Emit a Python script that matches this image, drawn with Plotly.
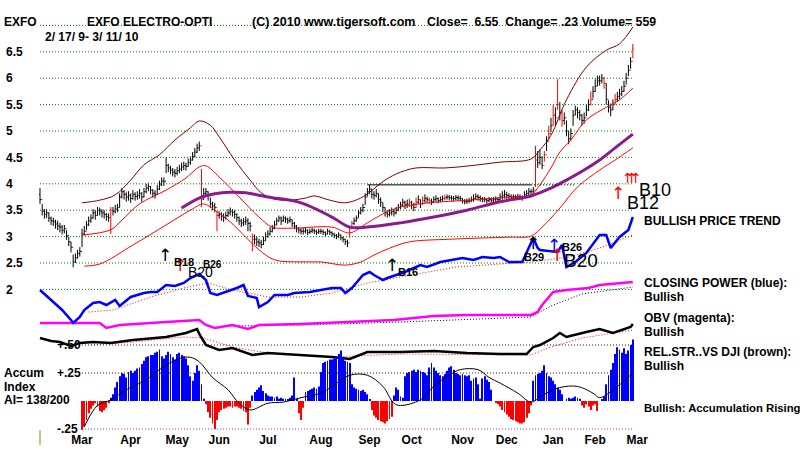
import plotly.graph_objects as go

# ---------------- price bars (trading-day index 0 = 2/17/09 ... 268 = 3/11/10)
closes = [
 3.70,3.48,3.42,3.45,3.35,3.30,3.28,3.24,3.20,3.18,
 3.12,3.15,3.02,2.90,2.80,2.52,2.60,2.68,2.72,3.05,
 3.10,3.22,3.30,3.35,3.45,3.40,3.50,3.48,3.45,3.42,
 3.38,3.36,3.50,3.48,3.52,3.55,3.75,3.85,3.80,3.75,
 3.78,3.72,3.80,3.76,3.78,3.82,3.75,3.85,3.92,3.95,
 3.88,3.82,3.80,3.90,3.98,4.05,4.05,4.35,4.30,4.26,
 4.22,4.20,4.25,4.28,4.32,4.35,4.33,4.40,4.45,4.52,
 4.60,4.68,4.72,3.70,3.82,3.85,3.78,3.62,3.58,3.55,
 3.40,3.42,3.38,3.36,3.40,3.45,3.48,3.46,3.42,3.36,
 3.30,3.26,3.28,3.30,3.25,3.20,2.95,2.95,2.90,2.88,
 2.85,2.92,3.00,3.05,3.10,3.15,3.22,3.30,3.35,3.30,
 3.35,3.33,3.30,3.32,3.25,3.20,3.15,3.12,3.10,3.10,
 3.12,3.08,3.10,3.12,3.10,3.08,3.10,3.10,3.08,3.05,
 3.10,3.08,3.05,3.02,3.00,3.03,2.98,2.95,2.90,2.88,
 3.15,3.25,3.30,3.35,3.45,3.50,3.55,3.75,3.85,3.90,
 3.80,3.78,3.82,3.70,3.65,3.55,3.45,3.42,3.45,3.48,
 3.45,3.50,3.55,3.60,3.65,3.60,3.62,3.65,3.60,3.55,
 3.65,3.70,3.62,3.68,3.72,3.70,3.68,3.66,3.70,3.72,
 3.68,3.70,3.72,3.74,3.75,3.74,3.73,3.72,3.74,3.73,
 3.72,3.68,3.66,3.67,3.68,3.70,3.72,3.76,3.74,3.72,
 3.70,3.70,3.68,3.70,3.69,3.70,3.71,3.70,3.75,3.78,
 3.80,3.78,3.76,3.75,3.75,3.74,3.76,3.75,3.73,3.80,
 3.82,3.85,3.85,3.88,4.45,4.40,4.50,4.35,4.55,4.80,
 4.95,5.10,5.30,5.25,5.50,5.35,5.20,5.25,5.00,4.85,
 4.95,5.30,5.40,5.35,5.30,5.20,5.25,5.40,5.50,5.60,
 5.75,5.85,5.95,5.95,6.00,5.90,5.60,5.45,5.40,5.50,
 5.60,5.65,5.70,5.75,5.85,6.00,6.15,6.32,6.55]
highs = [
 3.92,3.62,3.52,3.52,3.46,3.38,3.36,3.32,3.30,3.26,
 3.22,3.22,3.12,3.00,2.90,2.66,2.68,2.75,2.80,3.15,
 3.20,3.30,3.38,3.42,3.52,3.50,3.56,3.55,3.52,3.50,
 3.45,3.44,3.56,3.56,3.60,3.62,3.82,3.92,3.88,3.84,
 3.86,3.82,3.88,3.84,3.86,3.90,3.84,3.92,4.00,4.02,
 3.96,3.90,3.88,3.98,4.06,4.12,4.12,4.50,4.38,4.34,
 4.30,4.28,4.32,4.36,4.40,4.42,4.40,4.48,4.52,4.60,
 4.68,4.76,4.80,4.28,3.92,3.92,3.86,3.74,3.66,3.64,
 3.48,3.48,3.46,3.44,3.47,3.52,3.55,3.52,3.50,3.44,
 3.38,3.34,3.35,3.38,3.35,3.28,3.06,3.04,3.00,2.96,
 2.94,3.00,3.08,3.12,3.18,3.22,3.30,3.36,3.40,3.38,
 3.40,3.38,3.36,3.38,3.32,3.28,3.22,3.18,3.16,3.16,
 3.17,3.14,3.15,3.17,3.15,3.13,3.15,3.15,3.13,3.10,
 3.15,3.13,3.10,3.07,3.05,3.08,3.04,3.00,2.96,2.94,
 3.20,3.30,3.36,3.40,3.50,3.56,3.62,3.82,3.92,3.98,
 3.90,3.86,3.90,3.82,3.74,3.64,3.55,3.50,3.52,3.55,
 3.52,3.56,3.62,3.66,3.72,3.68,3.70,3.72,3.68,3.64,
 3.74,3.78,3.70,3.76,3.80,3.76,3.74,3.72,3.76,3.78,
 3.74,3.76,3.78,3.79,3.80,3.79,3.78,3.77,3.79,3.78,
 3.77,3.73,3.71,3.72,3.73,3.76,3.80,3.82,3.80,3.78,
 3.75,3.75,3.73,3.75,3.74,3.75,3.76,3.75,3.82,3.86,
 3.88,3.85,3.82,3.80,3.80,3.79,3.81,3.80,3.78,3.86,
 3.88,3.92,3.90,3.94,4.72,4.62,4.65,4.52,4.62,4.90,
 5.10,5.25,5.50,5.45,5.98,5.55,5.40,5.35,5.20,5.00,
 5.05,5.40,5.48,5.45,5.40,5.32,5.35,5.50,5.60,5.75,
 5.85,5.98,6.05,6.05,6.08,6.02,5.90,5.58,5.52,5.60,
 5.70,5.74,5.80,5.85,5.95,6.10,6.25,6.40,6.65]
lows = [
 3.62,3.40,3.34,3.35,3.28,3.22,3.20,3.15,3.12,3.08,
 3.04,3.06,2.94,2.82,2.70,2.42,2.50,2.58,2.62,2.80,
 3.02,3.12,3.20,3.26,3.34,3.32,3.40,3.40,3.36,3.34,
 3.30,3.28,3.05,3.40,3.44,3.46,3.55,3.72,3.70,3.66,
 3.68,3.64,3.70,3.68,3.70,3.72,3.66,3.74,3.82,3.86,
 3.80,3.74,3.72,3.80,3.88,3.96,3.96,4.20,4.22,4.18,
 4.14,4.12,4.16,4.20,4.24,4.26,4.25,4.32,4.36,4.44,
 4.50,4.58,4.62,3.56,3.70,3.76,3.68,3.54,3.50,3.46,
 3.10,3.34,3.30,3.28,3.32,3.37,3.40,3.38,3.34,3.28,
 3.22,3.18,3.20,3.22,3.10,3.10,2.72,2.86,2.82,2.80,
 2.78,2.84,2.92,2.98,3.02,3.08,3.14,3.22,3.28,3.22,
 3.28,3.26,3.24,3.26,3.18,3.14,3.08,3.06,3.04,3.04,
 3.06,3.03,3.05,3.07,3.05,3.03,3.05,3.05,3.03,3.00,
 3.04,3.03,3.00,2.97,2.95,2.97,2.93,2.89,2.84,2.80,
 2.98,3.16,3.22,3.28,3.36,3.42,3.46,3.60,3.76,3.80,
 3.72,3.70,3.74,3.62,3.56,3.46,3.38,3.36,3.38,3.40,
 3.38,3.42,3.48,3.52,3.56,3.52,3.54,3.56,3.52,3.48,
 3.54,3.62,3.54,3.60,3.64,3.64,3.62,3.60,3.64,3.66,
 3.63,3.65,3.67,3.69,3.70,3.69,3.68,3.67,3.69,3.68,
 3.67,3.63,3.61,3.62,3.63,3.65,3.66,3.70,3.68,3.66,
 3.65,3.65,3.63,3.65,3.64,3.65,3.66,3.65,3.68,3.70,
 3.72,3.71,3.70,3.70,3.70,3.69,3.71,3.70,3.68,3.74,
 3.76,3.78,3.79,3.82,3.94,4.30,4.36,4.28,4.42,4.62,
 4.82,4.98,5.10,5.10,5.40,5.20,5.08,5.12,4.90,4.75,
 4.82,5.10,5.30,5.24,5.20,5.10,5.14,5.28,5.38,5.48,
 5.62,5.74,5.85,5.86,5.90,5.80,5.50,5.35,5.28,5.40,
 5.50,5.55,5.60,5.66,5.74,5.88,6.04,6.18,6.38]
red_days = [32, 73, 80, 96, 140, 141, 167, 170, 173, 176, 183, 224, 228, 230,
            232, 234, 236, 249, 255, 260, 268]

# ---------------- bands / moving averages (day index, price)
upper_days = [19,27,34,41,47,54,61,68,72,77,81,88,95,100,106,113,120,124,131,138,
              145,149,156,163,170,183,194,208,222,226,231,238,247,256,262,268]
upper_vals = [3.64,3.69,3.79,4.07,4.36,4.55,4.83,5.06,5.19,5.11,4.89,4.45,4.07,3.83,
              3.71,3.69,3.73,3.77,3.69,3.64,3.73,3.84,4.07,4.22,4.30,4.30,4.34,4.41,
              4.47,4.64,4.92,5.59,6.21,6.53,6.65,6.97]
mid_days = [19,32,37,45,57,66,72,75,81,90,99,105,114,132,140,148,156,163,176,194,
            212,222,226,231,235,240,247,256,262,268]
mid_vals = [3.03,3.13,3.31,3.62,3.88,4.11,4.32,4.34,4.13,3.75,3.37,3.18,3.16,3.18,
            3.07,3.26,3.45,3.56,3.64,3.69,3.75,3.79,3.98,4.30,4.60,4.83,5.21,5.45,
            5.59,5.81]
lower_days = [20,27,42,57,68,74,79,86,93,99,106,118,127,138,145,151,158,167,185,
              212,222,228,235,243,253,260,268]
lower_vals = [2.44,2.48,2.84,3.22,3.50,3.62,3.50,3.28,2.99,2.75,2.56,2.52,2.52,2.46,
              2.52,2.65,2.78,2.90,2.95,2.99,3.01,3.22,3.54,3.94,4.26,4.45,4.68]
ma50_days = [64,72,79,86,93,103,118,132,140,148,163,178,193,208,222,231,238,246,
             253,260,268]
ma50_vals = [3.54,3.73,3.81,3.84,3.83,3.75,3.64,3.37,3.18,3.18,3.26,3.37,3.50,3.66,
             3.77,3.92,4.07,4.26,4.45,4.68,4.94]
resist_level = 3.98
resist_days = [148, 222]
resist_ext_days = [222, 242]

# ---------------- indicators (arbitrary display units)
cp_days = [0,5,10,14,15,18,20,24,27,30,34,36,41,47,50,53,57,61,65,68,72,75,77,80,
           84,89,92,94,98,99,103,106,112,115,122,127,132,136,138,141,146,149,151,
           155,157,161,165,169,172,175,181,186,191,196,200,205,208,212,218,223,225,
           226,231,234,236,238,242,247,253,256,258,262,266,268]
cp_vals = [40,30,20,10,7,13,20,27,28,25,30,24,33,37,38,38,45,44,47,52,56,50,37,35,
           38,42,45,34,32,23,28,35,35,37,38,40,42,42,37,42,55,58,55,50,52,55,58,62,
           65,63,68,70,72,70,73,72,73,68,68,92,82,80,79,78,85,63,68,77,95,95,82,93,
           100,113]
cp_ma_days = [22,33,50,65,76,87,103,118,132,148,163,188,208,222,239,253,268]
cp_ma_vals = [18,20,33,42,47,40,33,33,37,47,53,63,66,68,73,82,95]
obv_days = [0,27,30,36,57,72,75,79,87,94,99,118,139,160,178,193,222,225,227,232,
            238,248,253,268]
obv_vals = [7,7,2,5,8,10,5,2,5,1,5,6,8,10,14,15,15,18,25,38,40,42,45,48]
obv_ma_days = [86,118,163,222,231,245,268]
obv_ma_vals = [4,5,8,13,24,36,43]
rs_days = [0,5,9,14,18,24,32,42,57,66,71,72,75,81,87,94,96,103,118,132,140,148,
           163,178,193,208,220,223,226,232,235,238,247,253,259,267,268]
rs_vals = [-8,-11,-12,-16,-13,-12,-13,-10,-7,-3,1,-4,-15,-20,-18,-24,-25,-23,-25,
           -27,-29,-22,-22,-21,-23,-24,-24,-17,-15,-8,-3,-7,-2,1,-3,3,6]
rs_ma_days = [23,42,65,74,87,103,132,163,222,231,245,259,268]
rs_ma_vals = [-15,-12,-7,-8,-17,-23,-27,-24,-25,-17,-8,-3,0]

# ---------------- accumulation index (daily from day 19)
ai_start = 19
ai_vals = [
 -0.26,-0.23,-0.17,-0.11,-0.07,-0.04,-0.02,-0.05,-0.09,-0.10,
 -0.08,-0.06,-0.02,0.03,0.06,0.12,0.17,0.22,0.25,0.24,
 0.21,0.26,0.27,0.25,0.27,0.29,0.30,0.33,0.36,0.39,
 0.40,0.41,0.41,0.43,0.44,0.46,0.40,0.38,0.41,0.44,
 0.42,0.39,0.37,0.42,0.43,0.41,0.40,0.38,0.32,0.22,
 0.18,0.25,0.32,0.27,0.15,0.02,-0.03,-0.10,-0.15,-0.20,
 -0.25,-0.17,-0.10,-0.08,-0.07,-0.06,-0.05,-0.05,-0.06,-0.05,
 -0.05,-0.06,-0.07,-0.09,-0.10,-0.21,-0.06,0.05,0.08,0.10,
 0.12,0.14,0.09,0.07,0.05,0.04,0.04,0.03,0.04,0.02,
 0.03,0.02,0.02,0.01,0.03,0.05,0.21,0.01,-0.11,-0.17,
 -0.06,0.08,0.09,0.10,0.11,0.12,0.11,0.13,0.26,0.34,
 0.35,0.36,0.37,0.37,0.38,0.40,0.42,0.45,0.38,0.36,
 0.35,0.34,0.15,0.12,0.11,0.10,0.09,0.10,0.08,0.06,
 0.01,-0.08,-0.13,-0.15,-0.17,-0.18,-0.19,-0.20,-0.18,-0.16,
 -0.14,0.05,0.12,0.10,0.04,0.03,0.22,0.25,0.26,0.27,
 0.28,0.26,0.28,0.27,0.26,0.25,0.23,0.30,0.34,0.30,
 0.27,0.25,0.23,0.22,0.24,0.27,0.30,0.31,0.28,0.25,
 0.24,0.23,0.24,0.23,0.22,0.23,0.18,0.20,0.21,0.15,
 0.02,0.20,0.22,0.19,0.17,0.10,0.00,-0.01,-0.03,-0.05,
 -0.08,-0.10,-0.12,-0.14,-0.16,-0.17,-0.18,-0.19,-0.20,-0.20,
 -0.19,-0.15,-0.11,-0.04,0.18,0.23,0.24,0.25,0.27,0.32,
 0.25,0.22,0.21,0.18,0.15,0.12,0.10,0.06,0.00,0.02,
 0.03,0.02,0.03,0.04,0.03,0.02,-0.04,-0.06,-0.03,-0.05,
 -0.08,-0.04,-0.03,-0.09,0.00,0.01,0.04,0.15,0.23,0.28,
 0.34,0.42,0.48,0.46,0.43,0.47,0.42,0.45,0.50,0.55]
ai_ma_days = [20,26,32,39,48,54,63,68,72,78,85,90,95,103,110,118,127,132,140,148,
              155,160,163,172,178,185,190,198,203,208,216,222,227,235,243,250,253,
              261,268]
ai_ma_vals = [-0.23,-0.04,0.01,0.10,0.19,0.28,0.38,0.39,0.35,0.21,0.10,-0.02,-0.08,
              -0.02,-0.01,0.03,0.07,0.13,0.23,0.23,0.13,-0.02,-0.04,0.01,0.13,0.23,
              0.28,0.28,0.21,0.16,0.07,-0.01,0.05,0.12,0.13,0.07,0.03,0.13,0.25]
ai_levels = [0.50, 0.25, -0.25]
ai_level_text = ["+.50", "+.25", "-.25"]
ai_marker_range = [-0.26, -0.39]

price_grid = [2, 2.5, 3, 3.5, 4, 4.5, 5, 5.5, 6, 6.5, 7]
price_ticks = [2, 2.5, 3, 3.5, 4, 4.5, 5, 5.5, 6, 6.5]
price_tick_text = ["2", "2.5", "3", "3.5", "4", "4.5", "5", "5.5", "6", "6.5"]
month_pos = [19, 41, 62, 81, 103, 127, 149, 168, 191, 211, 232, 251, 270]
month_names = ["Mar", "Apr", "May", "Jun", "Jul", "Aug", "Sep", "Oct", "Nov", "Dec",
               "Jan", "Feb", "Mar"]

FONT = "Liberation Sans"
W, H = 800, 449
DOTS = "1px,2px"

days = list(range(len(closes)))
opens = [closes[0] + 0.1] + closes[:-1]

fig = go.Figure()

# grid lines
for lv in price_grid:
    fig.add_trace(go.Scatter(x=[days[0], days[-1]], y=[lv, lv], mode="lines",
                             line=dict(color="#008000", width=1, dash=DOTS),
                             hoverinfo="skip", showlegend=False))
for lv, col in zip(ai_levels, ["#222222", "#222222", "#cc3399"]):
    fig.add_trace(go.Scatter(x=[ai_start, days[-1]], y=[lv, lv], mode="lines",
                             line=dict(color=col, width=1, dash=DOTS),
                             yaxis="y3", hoverinfo="skip", showlegend=False))
fig.add_trace(go.Scatter(x=[days[0], days[0]], y=ai_marker_range, mode="lines",
                         line=dict(color="#808000", width=1), yaxis="y3",
                         hoverinfo="skip", showlegend=False))

# accumulation index bars
ai_days = list(range(ai_start, ai_start + len(ai_vals)))
fig.add_trace(go.Bar(x=ai_days, y=ai_vals, width=0.4, yaxis="y3",
                     marker=dict(color=["#0000ff" if v >= 0 else "#ff0000" for v in ai_vals],
                                 line=dict(width=0)),
                     hoverinfo="skip", showlegend=False))
fig.add_trace(go.Scatter(x=ai_ma_days, y=ai_ma_vals, mode="lines", yaxis="y3",
                         line=dict(color="black", width=1, shape="spline"),
                         hoverinfo="skip", showlegend=False))

# indicator lines
def ind(xs, ys, color, width, dash="solid"):
    fig.add_trace(go.Scatter(x=xs, y=ys, mode="lines", yaxis="y2",
                             line=dict(color=color, width=width, dash=dash),
                             hoverinfo="skip", showlegend=False))

ind(cp_ma_days, cp_ma_vals, "#ff0000", 1, DOTS)
ind(obv_ma_days, obv_ma_vals, "#000000", 1, DOTS)
ind(rs_ma_days, rs_ma_vals, "#ff0000", 1, DOTS)
ind(obv_days, obv_vals, "#ff00ff", 2.5)
ind(rs_days, rs_vals, "#000000", 2.5)
ind(cp_days, cp_vals, "#0000ff", 2.5)

# bands
def band(xs, ys, color, width, dash="solid"):
    fig.add_trace(go.Scatter(x=xs, y=ys, mode="lines",
                             line=dict(color=color, width=width, shape="spline", dash=dash),
                             hoverinfo="skip", showlegend=False))

band(upper_days, upper_vals, "#800000", 1)
band(mid_days, mid_vals, "#ff0000", 1)
band(lower_days, lower_vals, "#ff0000", 1)
band(ma50_days, ma50_vals, "#8b1a8b", 3)
fig.add_trace(go.Scatter(x=resist_days, y=[resist_level] * 2, mode="lines",
                         line=dict(color="black", width=1), hoverinfo="skip", showlegend=False))
fig.add_trace(go.Scatter(x=resist_ext_days, y=[resist_level] * 2, mode="lines",
                         line=dict(color="black", width=1, dash=DOTS), hoverinfo="skip",
                         showlegend=False))

# price bars
def ohlc(idx, color):
    fig.add_trace(go.Ohlc(x=[days[i] for i in idx], open=[opens[i] for i in idx],
                          high=[highs[i] for i in idx], low=[lows[i] for i in idx],
                          close=[closes[i] for i in idx], tickwidth=0.45,
                          increasing=dict(line=dict(color=color, width=1)),
                          decreasing=dict(line=dict(color=color, width=1)),
                          hoverinfo="skip", showlegend=False))

ohlc([i for i in days if i not in red_days], "black")
ohlc(red_days, "#ff0000")

# ---------------- text
ann = []
def txt(x, y, s, size=12, color="black", bold=True, xref="paper", yref="paper",
        xanchor="left", yanchor="middle", family=FONT):
    ann.append(dict(x=x, y=y, xref=xref, yref=yref, text=s, showarrow=False,
                    xanchor=xanchor, yanchor=yanchor,
                    font=dict(family=family, size=size, color=color,
                              weight="bold" if bold else "normal")))

def py(p):  # paper y from pixel row
    return 1 - p / H

txt(2 / W, py(22), "EXFO")
txt(85 / W, py(22), "EXFO ELECTRO-OPTI")
txt(250 / W, py(22), "(C) 2010 www.tigersoft.com", size=12.5)
txt(425 / W, py(22), "Close=  6.55  Change= .23 Volume= 559", size=12.3)
txt(43 / W, py(37), "2/ 17/ 9- 3/ 11/ 10")

txt(642 / W, py(221), "BULLISH PRICE TREND")
txt(642 / W, py(283), "CLOSING POWER (blue):")
txt(642 / W, py(297), "Bullish")
txt(642 / W, py(318), "OBV (magenta):")
txt(642 / W, py(332), "Bullish")
txt(642 / W, py(352), "REL.STR..VS DJI (brown):")
txt(642 / W, py(366), "Bullish")
txt(642 / W, py(408), "Bullish: Accumulation Rising", size=11.3)

txt(2 / W, py(373), "Accum")
txt(2 / W, py(387), "Index")
txt(2 / W, py(400), "AI= 138/200")
for lv, s in zip(ai_levels, ai_level_text):
    txt(55 / W, lv, s, yref="y3")

# signals
def arrow(d, p, color, size=17):
    txt(d, p, "↑", size=size, color=color, bold=False, xref="x", yref="y",
        xanchor="center", family="DejaVu Sans")

arrow(56.5, 2.65, "black")
arrow(63.3, 2.47, "#ff0000")
txt(59.5, 2.52, "B18", size=11, xref="x", yref="y")
txt(66.0, 2.33, "B20", size=14, bold=False, xref="x", yref="y")
txt(73.0, 2.47, "B26", size=10, xref="x", yref="y")
arrow(159, 2.47, "black")
txt(161, 2.33, "B16", size=11, xref="x", yref="y")
arrow(223, 2.88, "black")
txt(218, 2.61, "B29", size=11, xref="x", yref="y")
arrow(232.4, 2.84, "#0000ff")
arrow(233.7, 2.66, "#ff0000")
txt(235, 2.80, "B26", size=11, xref="x", yref="y")
txt(236, 2.54, "B20", size=19, bold=False, xref="x", yref="y")
arrow(261.3, 3.83, "#ff0000")
arrow(265.8, 4.11, "#ff0000", size=14)
arrow(267.6, 4.11, "#ff0000", size=14)
arrow(269.4, 4.11, "#ff0000", size=14)
txt(269.9, 3.88, "B10", size=18, bold=False, xref="x", yref="y")
txt(264.5, 3.64, "B12", size=18, bold=False, xref="x", yref="y")

# axes ranges: x px = 40 + 2.212*day ; price px = 263 - (p-2.5)*52.8
x0 = -40 / 2.212
x1 = (W - 40) / 2.212
p_top = 2.5 + 263 / 52.8
p_bot = 2.5 - (H - 263) / 52.8

fig.update_layout(
    width=W, height=H, margin=dict(l=0, r=0, t=0, b=0),
    paper_bgcolor="white", plot_bgcolor="white", showlegend=False,
    hovermode=False, barmode="overlay",
    xaxis=dict(range=[x0, x1], domain=[0, 1], showgrid=False, zeroline=False,
               showline=False, ticks="", tickvals=month_pos, ticktext=month_names,
               ticklabelposition="inside",
               tickfont=dict(family=FONT, size=12, color="black", weight="bold"),
               rangeslider=dict(visible=False)),
    yaxis=dict(range=[p_bot, p_top], domain=[0, 1], showgrid=False, zeroline=False,
               showline=False, ticks="", tickvals=price_ticks, ticktext=price_tick_text,
               ticklabelposition="inside", ticklabelstandoff=3,
               tickfont=dict(family=FONT, size=12, color="black", weight="bold")),
    yaxis2=dict(range=[330 - H, 330], overlaying="y", visible=False),
    yaxis3=dict(range=[-(H - 401) / 112, 401 / 112], overlaying="y", visible=False),
    annotations=ann,
)

fig.write_html("out.html")
